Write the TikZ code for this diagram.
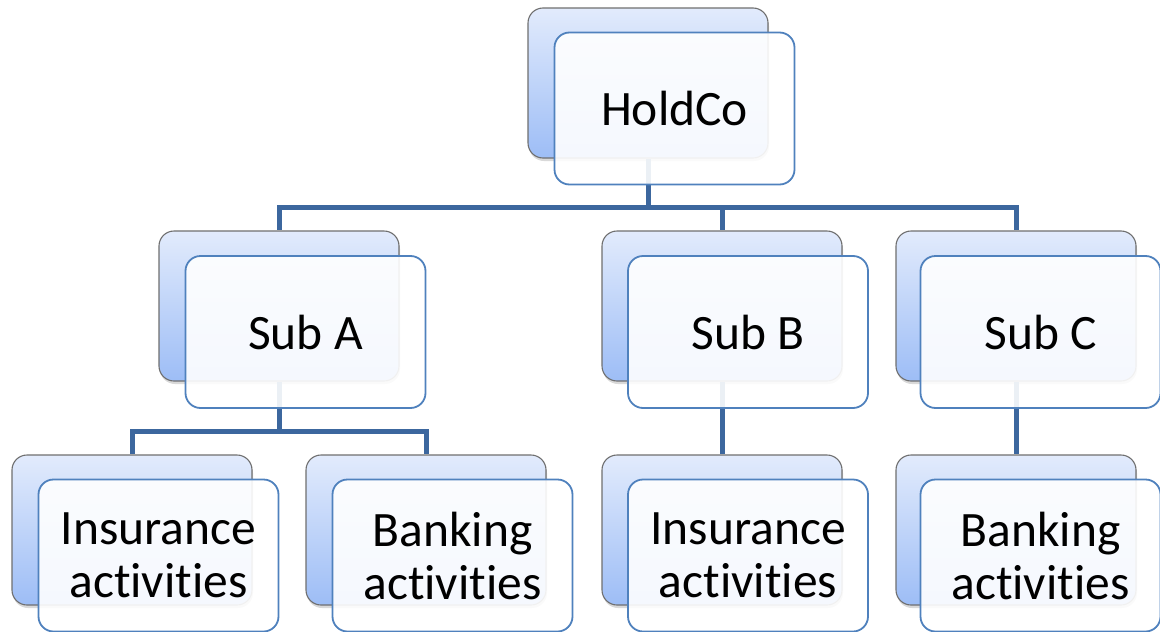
\documentclass[tikz,border=0pt]{standalone}
\usepackage{fontspec}
\setmainfont[Ligatures={NoCommon},RawFeature={-liga;-clig;-dlig}]{Carlito}
\usetikzlibrary{shadows}
\definecolor{linec}{HTML}{3C679E}
\definecolor{frontc}{HTML}{4F81BD}
\definecolor{backtop}{HTML}{E2EBFC}
\definecolor{backbot}{HTML}{9DBDF6}
\definecolor{backedge}{HTML}{6F6F6F}
\newcommand\actword{act\kern0pt ivit\kern0pt ies}
\begin{document}
\begin{tikzpicture}[x=1pt,y=-1pt,
  backbox/.style={rectangle, rounded corners=15pt, minimum width=240pt, minimum height=150pt,
    draw=backedge, line width=1.1pt, top color=backtop, bottom color=backbot,
    drop shadow={shadow xshift=1pt,shadow yshift=-3pt,opacity=0.3}},
  frontbox/.style={rectangle, rounded corners=15pt, minimum width=240pt, minimum height=152pt,
    draw=frontc, line width=1.8pt, fill=white, fill opacity=0.9, text opacity=1,
    align=center, font=\fontsize{49.5}{53}\selectfont},
  conn/.style={draw=linec, line width=5pt}]
\useasboundingbox (0,0) rectangle (1160,632);
% back boxes
\node[backbox] (hb) at (648,83) {};
\node[backbox] (ab) at (279,306) {};
\node[backbox] (bb) at (722,306) {};
\node[backbox] (cb) at (1016,306) {};
\node[backbox] (i1b) at (132,530) {};
\node[backbox] (k1b) at (426,530) {};
\node[backbox] (i2b) at (722,530) {};
\node[backbox] (k2b) at (1016,530) {};
% connectors
\coordinate (hbar) at (0,207);
\coordinate (abar) at (0,431);
\draw[conn] (hb.south) -- (hb.south |- hbar) -| (ab.north);
\draw[conn] (hb.south |- hbar) -| (bb.north);
\draw[conn] (hb.south |- hbar) -| (cb.north);
\draw[conn] (ab.south) -- (ab.south |- abar) -| (i1b.north);
\draw[conn] (ab.south |- abar) -| (k1b.north);
\draw[conn] (bb.south) -- (i2b.north);
\draw[conn] (cb.south) -- (k2b.north);
% front boxes
\node[frontbox] (hf) at (674.5,108.5) {HoldCo};
\node[frontbox] (af) at (305.5,332) {Sub A};
\node[frontbox] (bf) at (748,332) {Sub B};
\node[frontbox] (cf) at (1040.5,332) {Sub C};
\node[frontbox] (i1f) at (158.5,555.5) {Insurance\\\actword};
\node[frontbox] (k1f) at (452.5,555.5) {Banking\\\actword};
\node[frontbox] (i2f) at (748,555.5) {Insurance\\\actword};
\node[frontbox] (k2f) at (1040.5,555.5) {Banking\\\actword};
\end{tikzpicture}
\end{document}
